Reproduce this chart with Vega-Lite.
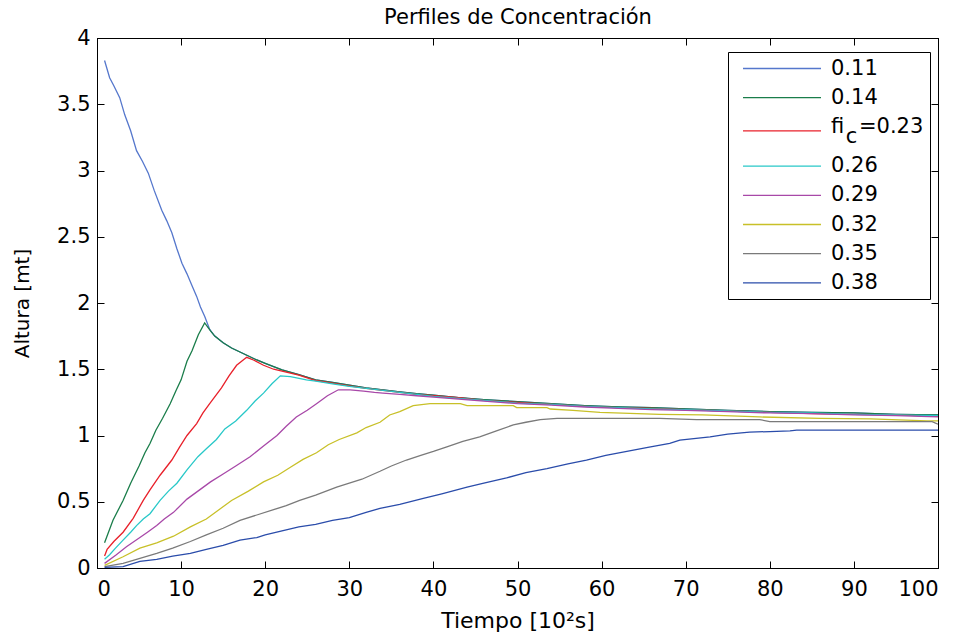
{
  "$schema": "https://vega.github.io/schema/vega-lite/v6.json",
  "autosize": "none",
  "width": 841,
  "height": 530,
  "padding": {"left": 97, "top": 38, "right": 29, "bottom": 66},
  "background": "white",
  "config": {
    "view": {"stroke": "black", "strokeWidth": 1},
    "axis": {
      "grid": false,
      "domainColor": "black",
      "tickColor": "black",
      "labelColor": "black",
      "titleColor": "black",
      "labelFont": "DejaVu Sans",
      "labelFontSize": 21,
      "titleFont": "DejaVu Sans",
      "titleFontWeight": "normal",
      "tickSize": -7
    },
    "legend": {
      "labelFont": "DejaVu Sans",
      "labelFontSize": 21,
      "labelColor": "black",
      "labelLimit": 400
    }
  },
  "data": {
    "values": [
      {"s":"0.11","x":0.9,"y":3.83},{"s":"0.11","x":1.5,"y":3.70},{"s":"0.11","x":2,"y":3.64},{"s":"0.11","x":2.7,"y":3.55},{"s":"0.11","x":3.3,"y":3.42},{"s":"0.11","x":4,"y":3.30},{"s":"0.11","x":4.7,"y":3.15},{"s":"0.11","x":5.4,"y":3.07},{"s":"0.11","x":6.1,"y":2.98},{"s":"0.11","x":6.8,"y":2.85},{"s":"0.11","x":7.7,"y":2.70},{"s":"0.11","x":8.3,"y":2.62},{"s":"0.11","x":8.9,"y":2.53},{"s":"0.11","x":9.5,"y":2.41},{"s":"0.11","x":10.1,"y":2.30},{"s":"0.11","x":10.7,"y":2.22},{"s":"0.11","x":11.3,"y":2.13},{"s":"0.11","x":11.85,"y":2.05},{"s":"0.11","x":12.3,"y":1.97},{"s":"0.11","x":12.8,"y":1.90},{"s":"0.11","x":13.4,"y":1.80},
      {"s":"0.11","x":14,"y":1.75},{"s":"0.11","x":15,"y":1.70},{"s":"0.11","x":16,"y":1.66},{"s":"0.11","x":17,"y":1.63},{"s":"0.11","x":18,"y":1.60},{"s":"0.11","x":19,"y":1.57},{"s":"0.11","x":20,"y":1.545},{"s":"0.11","x":22,"y":1.495},{"s":"0.11","x":24,"y":1.46},{"s":"0.11","x":26,"y":1.42},{"s":"0.11","x":28,"y":1.40},{"s":"0.11","x":30,"y":1.38},{"s":"0.11","x":32,"y":1.36},{"s":"0.11","x":34,"y":1.345},{"s":"0.11","x":36,"y":1.33},{"s":"0.11","x":38,"y":1.315},{"s":"0.11","x":40,"y":1.305},{"s":"0.11","x":43,"y":1.285},{"s":"0.11","x":46,"y":1.27},{"s":"0.11","x":50,"y":1.255},{"s":"0.11","x":54,"y":1.24},{"s":"0.11","x":58,"y":1.225},{"s":"0.11","x":62,"y":1.215},{"s":"0.11","x":66,"y":1.21},{"s":"0.11","x":70,"y":1.20},{"s":"0.11","x":75,"y":1.19},{"s":"0.11","x":80,"y":1.18},{"s":"0.11","x":85,"y":1.175},{"s":"0.11","x":90,"y":1.17},{"s":"0.11","x":95,"y":1.16},{"s":"0.11","x":100,"y":1.155},

      {"s":"0.14","x":0.9,"y":0.19},{"s":"0.14","x":1.9,"y":0.36},{"s":"0.14","x":3.1,"y":0.51},{"s":"0.14","x":4,"y":0.64},{"s":"0.14","x":5,"y":0.77},{"s":"0.14","x":5.7,"y":0.87},{"s":"0.14","x":6.3,"y":0.94},{"s":"0.14","x":7,"y":1.04},{"s":"0.14","x":7.8,"y":1.13},{"s":"0.14","x":8.7,"y":1.24},{"s":"0.14","x":9.4,"y":1.34},{"s":"0.14","x":10,"y":1.42},{"s":"0.14","x":10.7,"y":1.56},{"s":"0.14","x":11.3,"y":1.64},{"s":"0.14","x":12.05,"y":1.76},{"s":"0.14","x":12.8,"y":1.85},{"s":"0.14","x":13.5,"y":1.79},
      {"s":"0.14","x":14,"y":1.75},{"s":"0.14","x":15,"y":1.70},{"s":"0.14","x":16,"y":1.66},{"s":"0.14","x":17,"y":1.63},{"s":"0.14","x":18,"y":1.60},{"s":"0.14","x":19,"y":1.57},{"s":"0.14","x":20,"y":1.545},{"s":"0.14","x":22,"y":1.495},{"s":"0.14","x":24,"y":1.46},{"s":"0.14","x":26,"y":1.42},{"s":"0.14","x":28,"y":1.40},{"s":"0.14","x":30,"y":1.38},{"s":"0.14","x":32,"y":1.36},{"s":"0.14","x":34,"y":1.345},{"s":"0.14","x":36,"y":1.33},{"s":"0.14","x":38,"y":1.315},{"s":"0.14","x":40,"y":1.305},{"s":"0.14","x":43,"y":1.285},{"s":"0.14","x":46,"y":1.27},{"s":"0.14","x":50,"y":1.255},{"s":"0.14","x":54,"y":1.24},{"s":"0.14","x":58,"y":1.225},{"s":"0.14","x":62,"y":1.215},{"s":"0.14","x":66,"y":1.21},{"s":"0.14","x":70,"y":1.20},{"s":"0.14","x":75,"y":1.19},{"s":"0.14","x":80,"y":1.18},{"s":"0.14","x":85,"y":1.175},{"s":"0.14","x":90,"y":1.17},{"s":"0.14","x":95,"y":1.16},{"s":"0.14","x":100,"y":1.155},

      {"s":"0.23","x":0.9,"y":0.09},{"s":"0.23","x":1.2,"y":0.14},{"s":"0.23","x":2,"y":0.20},{"s":"0.23","x":3.1,"y":0.27},{"s":"0.23","x":4.3,"y":0.375},{"s":"0.23","x":5.5,"y":0.51},{"s":"0.23","x":6.3,"y":0.59},{"s":"0.23","x":7.5,"y":0.70},{"s":"0.23","x":8.9,"y":0.815},{"s":"0.23","x":9.8,"y":0.91},{"s":"0.23","x":10.7,"y":1.0},{"s":"0.23","x":11.85,"y":1.09},{"s":"0.23","x":12.6,"y":1.17},{"s":"0.23","x":13.4,"y":1.24},{"s":"0.23","x":14.8,"y":1.36},{"s":"0.23","x":15.7,"y":1.45},{"s":"0.23","x":16.6,"y":1.53},{"s":"0.23","x":17.8,"y":1.59},{"s":"0.23","x":18.6,"y":1.57},{"s":"0.23","x":19.8,"y":1.53},{"s":"0.23","x":21,"y":1.50},{"s":"0.23","x":22,"y":1.485},{"s":"0.23","x":24,"y":1.455},{"s":"0.23","x":26,"y":1.415},{"s":"0.23","x":28,"y":1.395},{"s":"0.23","x":30,"y":1.375},{"s":"0.23","x":32,"y":1.355},{"s":"0.23","x":34,"y":1.34},{"s":"0.23","x":36,"y":1.325},{"s":"0.23","x":38,"y":1.31},{"s":"0.23","x":40,"y":1.30},{"s":"0.23","x":43,"y":1.285},{"s":"0.23","x":46,"y":1.265},{"s":"0.23","x":50,"y":1.25},{"s":"0.23","x":54,"y":1.235},{"s":"0.23","x":58,"y":1.22},{"s":"0.23","x":62,"y":1.21},{"s":"0.23","x":66,"y":1.205},{"s":"0.23","x":70,"y":1.195},{"s":"0.23","x":75,"y":1.185},{"s":"0.23","x":80,"y":1.175},{"s":"0.23","x":85,"y":1.165},{"s":"0.23","x":90,"y":1.16},{"s":"0.23","x":95,"y":1.155},{"s":"0.23","x":100,"y":1.145},

      {"s":"0.26","x":0.9,"y":0.066},{"s":"0.26","x":1.5,"y":0.10},{"s":"0.26","x":2.2,"y":0.15},{"s":"0.26","x":3.1,"y":0.21},{"s":"0.26","x":4,"y":0.27},{"s":"0.26","x":4.7,"y":0.32},{"s":"0.26","x":5.5,"y":0.37},{"s":"0.26","x":6.3,"y":0.41},{"s":"0.26","x":7.5,"y":0.51},{"s":"0.26","x":8.5,"y":0.58},{"s":"0.26","x":9.5,"y":0.64},{"s":"0.26","x":10.7,"y":0.74},{"s":"0.26","x":12,"y":0.84},{"s":"0.26","x":13,"y":0.90},{"s":"0.26","x":14.2,"y":0.97},{"s":"0.26","x":15.2,"y":1.05},{"s":"0.26","x":16.5,"y":1.11},{"s":"0.26","x":17.8,"y":1.19},{"s":"0.26","x":18.8,"y":1.26},{"s":"0.26","x":19.8,"y":1.32},{"s":"0.26","x":20.8,"y":1.39},{"s":"0.26","x":21.8,"y":1.45},{"s":"0.26","x":23,"y":1.445},{"s":"0.26","x":24.9,"y":1.42},{"s":"0.26","x":26,"y":1.41},{"s":"0.26","x":28,"y":1.39},{"s":"0.26","x":30,"y":1.37},{"s":"0.26","x":32,"y":1.355},{"s":"0.26","x":34,"y":1.34},{"s":"0.26","x":36,"y":1.325},{"s":"0.26","x":38,"y":1.31},{"s":"0.26","x":40,"y":1.295},{"s":"0.26","x":43,"y":1.28},{"s":"0.26","x":46,"y":1.265},{"s":"0.26","x":50,"y":1.245},{"s":"0.26","x":54,"y":1.235},{"s":"0.26","x":58,"y":1.22},{"s":"0.26","x":62,"y":1.21},{"s":"0.26","x":66,"y":1.20},{"s":"0.26","x":70,"y":1.195},{"s":"0.26","x":75,"y":1.185},{"s":"0.26","x":80,"y":1.175},{"s":"0.26","x":85,"y":1.17},{"s":"0.26","x":90,"y":1.16},{"s":"0.26","x":95,"y":1.155},{"s":"0.26","x":100,"y":1.15},

      {"s":"0.29","x":0.9,"y":0.035},{"s":"0.29","x":2.3,"y":0.10},{"s":"0.29","x":3.5,"y":0.16},{"s":"0.29","x":5.1,"y":0.23},{"s":"0.29","x":6,"y":0.27},{"s":"0.29","x":7.1,"y":0.32},{"s":"0.29","x":8,"y":0.37},{"s":"0.29","x":9.1,"y":0.42},{"s":"0.29","x":10.7,"y":0.52},{"s":"0.29","x":12,"y":0.58},{"s":"0.29","x":13.5,"y":0.65},{"s":"0.29","x":15,"y":0.71},{"s":"0.29","x":16.5,"y":0.77},{"s":"0.29","x":18.2,"y":0.84},{"s":"0.29","x":19.8,"y":0.92},{"s":"0.29","x":21.4,"y":1.0},{"s":"0.29","x":22.5,"y":1.07},{"s":"0.29","x":23.7,"y":1.14},{"s":"0.29","x":25,"y":1.19},{"s":"0.29","x":26.1,"y":1.24},{"s":"0.29","x":27.4,"y":1.30},{"s":"0.29","x":28.7,"y":1.345},{"s":"0.29","x":30.1,"y":1.345},{"s":"0.29","x":31.7,"y":1.335},{"s":"0.29","x":33,"y":1.325},{"s":"0.29","x":34,"y":1.32},{"s":"0.29","x":36,"y":1.31},{"s":"0.29","x":38,"y":1.30},{"s":"0.29","x":40,"y":1.29},{"s":"0.29","x":43,"y":1.275},{"s":"0.29","x":46,"y":1.26},{"s":"0.29","x":50,"y":1.24},{"s":"0.29","x":54,"y":1.23},{"s":"0.29","x":58,"y":1.215},{"s":"0.29","x":62,"y":1.205},{"s":"0.29","x":66,"y":1.195},{"s":"0.29","x":70,"y":1.19},{"s":"0.29","x":75,"y":1.18},{"s":"0.29","x":80,"y":1.17},{"s":"0.29","x":85,"y":1.165},{"s":"0.29","x":90,"y":1.155},{"s":"0.29","x":95,"y":1.15},{"s":"0.29","x":100,"y":1.14},

      {"s":"0.32","x":0.9,"y":0.02},{"s":"0.32","x":3.1,"y":0.085},{"s":"0.32","x":5.1,"y":0.15},{"s":"0.32","x":7.1,"y":0.19},{"s":"0.32","x":9.1,"y":0.24},{"s":"0.32","x":11.1,"y":0.31},{"s":"0.32","x":13,"y":0.37},{"s":"0.32","x":14.5,"y":0.44},{"s":"0.32","x":16,"y":0.51},{"s":"0.32","x":18,"y":0.58},{"s":"0.32","x":19.8,"y":0.65},{"s":"0.32","x":21.5,"y":0.70},{"s":"0.32","x":23,"y":0.76},{"s":"0.32","x":24.5,"y":0.82},{"s":"0.32","x":26.1,"y":0.87},{"s":"0.32","x":27.5,"y":0.93},{"s":"0.32","x":28.8,"y":0.97},{"s":"0.32","x":30.9,"y":1.02},{"s":"0.32","x":32,"y":1.06},{"s":"0.32","x":33.65,"y":1.10},{"s":"0.32","x":34.8,"y":1.155},{"s":"0.32","x":36,"y":1.18},{"s":"0.32","x":37.6,"y":1.225},{"s":"0.32","x":39.6,"y":1.24},{"s":"0.32","x":43.2,"y":1.24},{"s":"0.32","x":44,"y":1.225},{"s":"0.32","x":49.5,"y":1.225},{"s":"0.32","x":49.9,"y":1.21},{"s":"0.32","x":53.5,"y":1.21},{"s":"0.32","x":53.9,"y":1.20},{"s":"0.32","x":56.6,"y":1.19},{"s":"0.32","x":59.8,"y":1.175},{"s":"0.32","x":66.9,"y":1.16},{"s":"0.32","x":72,"y":1.155},{"s":"0.32","x":78.8,"y":1.14},{"s":"0.32","x":86,"y":1.13},{"s":"0.32","x":92,"y":1.125},{"s":"0.32","x":98.7,"y":1.11},{"s":"0.32","x":100,"y":1.11},

      {"s":"0.35","x":0.9,"y":0.01},{"s":"0.35","x":3.1,"y":0.035},{"s":"0.35","x":5,"y":0.07},{"s":"0.35","x":7.1,"y":0.11},{"s":"0.35","x":9,"y":0.15},{"s":"0.35","x":11.1,"y":0.20},{"s":"0.35","x":13,"y":0.25},{"s":"0.35","x":15,"y":0.30},{"s":"0.35","x":17,"y":0.36},{"s":"0.35","x":19,"y":0.40},{"s":"0.35","x":21,"y":0.44},{"s":"0.35","x":22.5,"y":0.47},{"s":"0.35","x":24.1,"y":0.51},{"s":"0.35","x":26,"y":0.55},{"s":"0.35","x":28.5,"y":0.61},{"s":"0.35","x":30,"y":0.64},{"s":"0.35","x":31.5,"y":0.67},{"s":"0.35","x":33.65,"y":0.73},{"s":"0.35","x":35,"y":0.77},{"s":"0.35","x":36.8,"y":0.815},{"s":"0.35","x":38.5,"y":0.85},{"s":"0.35","x":40,"y":0.88},{"s":"0.35","x":41.6,"y":0.915},{"s":"0.35","x":43.5,"y":0.955},{"s":"0.35","x":45.5,"y":0.99},{"s":"0.35","x":47.5,"y":1.035},{"s":"0.35","x":49.5,"y":1.08},{"s":"0.35","x":51,"y":1.10},{"s":"0.35","x":52.7,"y":1.12},{"s":"0.35","x":54.7,"y":1.13},{"s":"0.35","x":66.9,"y":1.13},{"s":"0.35","x":71.3,"y":1.12},{"s":"0.35","x":78.8,"y":1.12},{"s":"0.35","x":80,"y":1.105},{"s":"0.35","x":99.3,"y":1.105},{"s":"0.35","x":100,"y":1.085},

      {"s":"0.38","x":0.9,"y":0.005},{"s":"0.38","x":3.1,"y":0.01},{"s":"0.38","x":5.1,"y":0.05},{"s":"0.38","x":7.1,"y":0.065},{"s":"0.38","x":9,"y":0.09},{"s":"0.38","x":11.1,"y":0.11},{"s":"0.38","x":13,"y":0.14},{"s":"0.38","x":15,"y":0.17},{"s":"0.38","x":17,"y":0.21},{"s":"0.38","x":19,"y":0.23},{"s":"0.38","x":20,"y":0.25},{"s":"0.38","x":22,"y":0.28},{"s":"0.38","x":24,"y":0.31},{"s":"0.38","x":26,"y":0.33},{"s":"0.38","x":28,"y":0.36},{"s":"0.38","x":30,"y":0.38},{"s":"0.38","x":32,"y":0.42},{"s":"0.38","x":33.65,"y":0.45},{"s":"0.38","x":36,"y":0.48},{"s":"0.38","x":38.8,"y":0.525},{"s":"0.38","x":41,"y":0.56},{"s":"0.38","x":44,"y":0.61},{"s":"0.38","x":46,"y":0.64},{"s":"0.38","x":48.7,"y":0.68},{"s":"0.38","x":51,"y":0.72},{"s":"0.38","x":53.5,"y":0.75},{"s":"0.38","x":56,"y":0.785},{"s":"0.38","x":58.2,"y":0.815},{"s":"0.38","x":60.5,"y":0.85},{"s":"0.38","x":63,"y":0.88},{"s":"0.38","x":65.5,"y":0.91},{"s":"0.38","x":68.1,"y":0.94},{"s":"0.38","x":69.3,"y":0.965},{"s":"0.38","x":72.9,"y":0.99},{"s":"0.38","x":75,"y":1.01},{"s":"0.38","x":77.6,"y":1.025},{"s":"0.38","x":80,"y":1.03},{"s":"0.38","x":82.4,"y":1.035},{"s":"0.38","x":83.2,"y":1.04},{"s":"0.38","x":100,"y":1.04}
    ]
  },
  "layer": [
    {
      "mark": {"type": "line", "strokeWidth": 1.3, "clip": true},
      "encoding": {
        "x": {
          "field": "x", "type": "quantitative",
          "scale": {"domain": [0, 100], "nice": false, "zero": false},
          "axis": {
            "values": [0, 10, 20, 30, 40, 50, 60, 70, 80, 90, 100],
            "labelPadding": 17,
            "title": "Tiempo [10²s]",
            "titleFontSize": 22,
            "titleBaseline": "alphabetic",
            "titleY": 59
          }
        },
        "y": {
          "field": "y", "type": "quantitative",
          "scale": {"domain": [0, 4], "nice": false, "zero": false},
          "axis": {
            "values": [0, 0.5, 1, 1.5, 2, 2.5, 3, 3.5, 4],
            "format": "~g",
            "labelPadding": 14,
            "title": "Altura [mt]",
            "titleFontSize": 20,
            "titleBaseline": "alphabetic",
            "titleX": -69
          }
        },
        "color": {
          "field": "s", "type": "nominal",
          "scale": {
            "domain": ["0.11", "0.14", "0.23", "0.26", "0.29", "0.32", "0.35", "0.38"],
            "range": ["#5577cc", "#1a7d4a", "#e8202a", "#28c8c8", "#a848a8", "#c8c028", "#7a7a7a", "#2a4caa"]
          },
          "legend": {
            "title": null,
            "orient": "none",
            "legendX": 631,
            "legendY": 14,
            "symbolType": "M-4,0H4",
            "symbolSize": 380,
            "symbolStrokeWidth": 1.3,
            "symbolOffset": 37.5,
            "labelOffset": 38.5,
            "padding": 6,
            "rowPadding": 7.2,
            "strokeColor": "black",
            "fillColor": "white",
            "labelExpr": "datum.value == '0.23' ? ['fi\u2002\u2009=0.23', '\u200B\u2002\u2009c'] : datum.label",
            "encode": {"labels": {"update": {
              "lineHeight": {"value": 10},
              "dy": [{"test": "datum.value == '0.23'", "value": -4}, {"value": 0}]
            }}}
          }
        }
      }
    },
    {
      "mark": {"type": "line", "opacity": 0},
      "encoding": {
        "x": {"field": "x", "type": "quantitative", "axis": {"orient": "top", "labels": false, "values": [0, 10, 20, 30, 40, 50, 60, 70, 80, 90, 100],
          "title": "Perfiles de Concentración", "titleFontSize": 21, "titleBaseline": "alphabetic", "titleY": -15}},
        "y": {"field": "y", "type": "quantitative", "axis": {"orient": "right", "labels": false, "title": null, "values": [0, 0.5, 1, 1.5, 2, 2.5, 3, 3.5, 4]}}
      }
    }
  ],
  "resolve": {"axis": {"x": "independent", "y": "independent"}}
}
